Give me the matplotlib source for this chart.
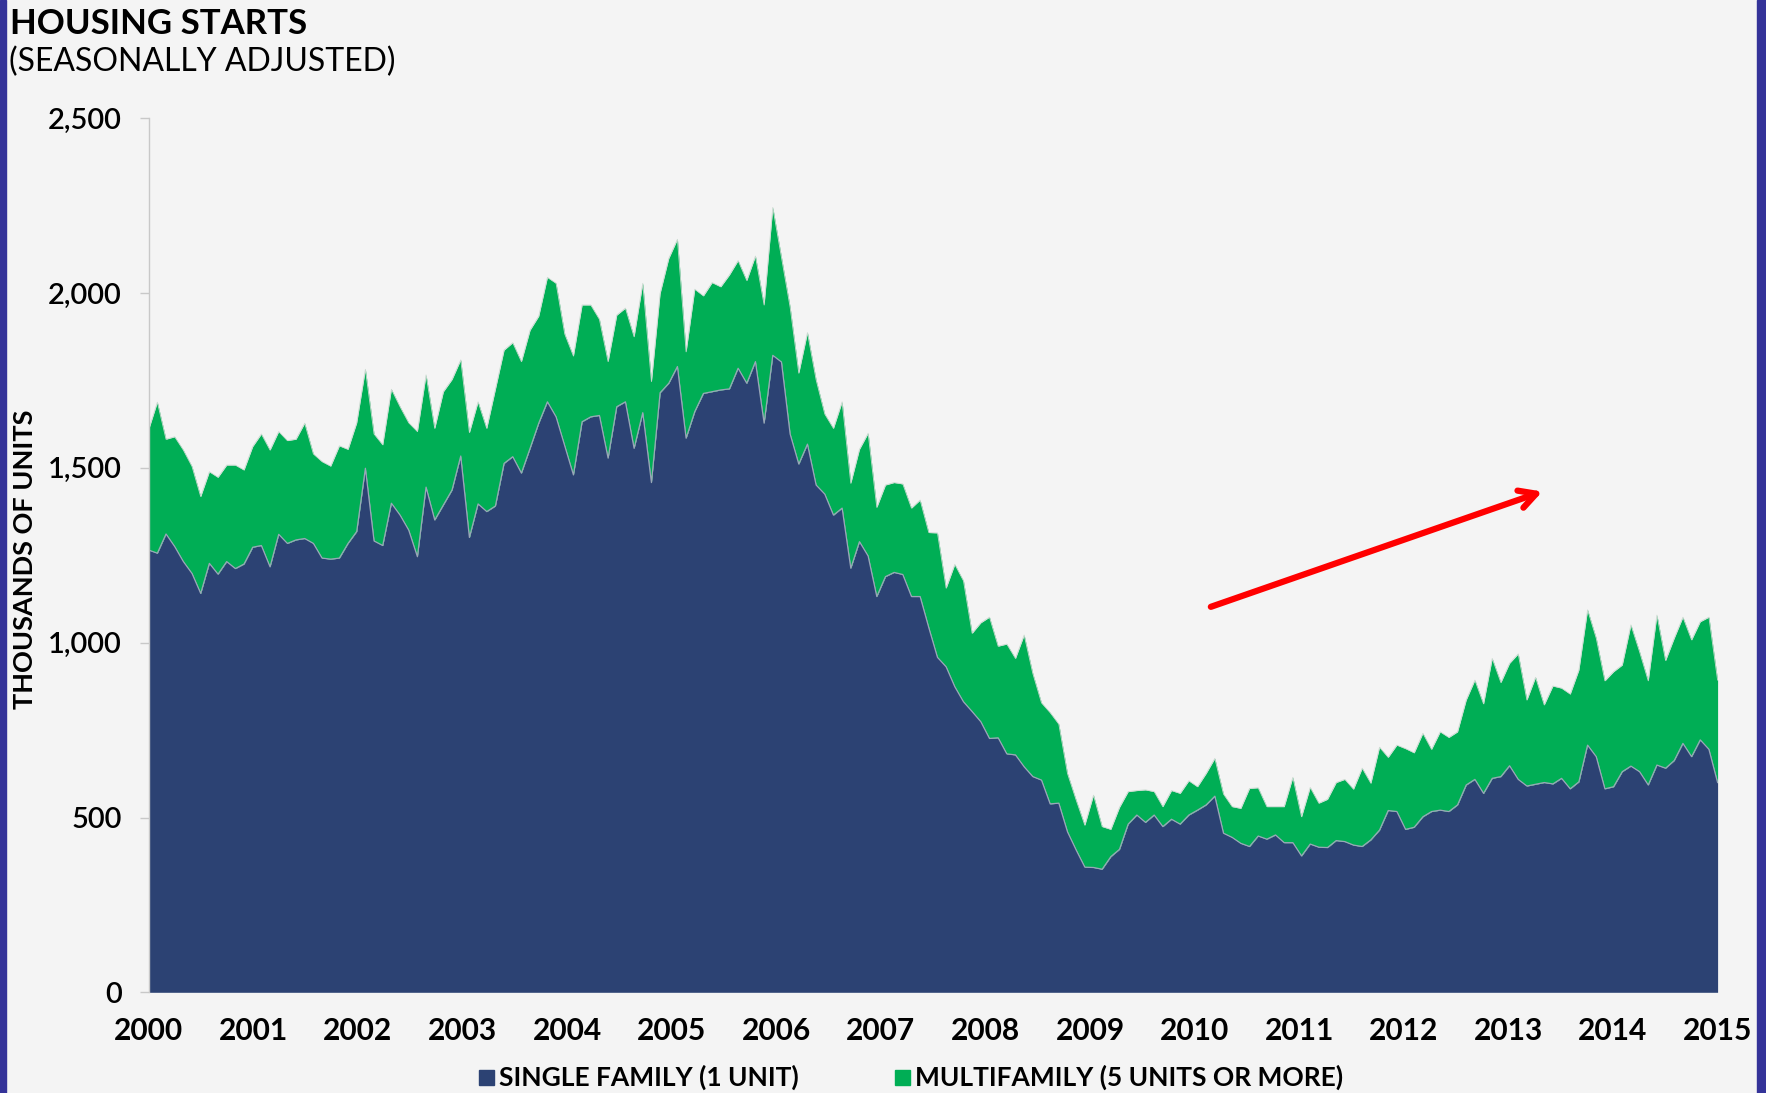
import numpy as np
import matplotlib
matplotlib.use("Agg")
import matplotlib.pyplot as plt
from matplotlib.patches import Rectangle
from matplotlib.ticker import FuncFormatter

# Monthly housing starts, thousands of units (Jan 2000 - Feb 2015)
single_family = [
    1265, 1256, 1311, 1275, 1232, 1198, 1141, 1227, 1196, 1232, 1212, 1225,
    1273, 1278, 1217, 1310, 1284, 1294, 1298, 1284, 1242, 1239, 1242, 1284,
    1318, 1499, 1291, 1278, 1399, 1365, 1322, 1246, 1445, 1351, 1394, 1437,
    1534, 1301, 1397, 1375, 1391, 1513, 1532, 1485, 1556, 1628, 1689, 1646,
    1563, 1480, 1632, 1646, 1650, 1528, 1675, 1689, 1556, 1658, 1458, 1715,
    1742, 1790, 1585, 1661, 1713, 1718, 1723, 1726, 1785, 1742, 1804, 1628,
    1822, 1803, 1597, 1511, 1568, 1451, 1425, 1365, 1385, 1213, 1289, 1248,
    1132, 1189, 1201, 1195, 1132, 1132, 1043, 958, 931, 874, 831, 803,
    774, 726, 728, 682, 679, 645, 617, 607, 539, 541, 459, 407,
    358, 357, 352, 388, 409, 481, 507, 486, 507, 474, 495, 481,
    507, 521, 536, 561, 455, 443, 426, 417, 447, 438, 450, 428,
    428, 390, 424, 415, 414, 434, 431, 421, 417, 436, 464, 520,
    517, 466, 472, 502, 517, 521, 517, 536, 593, 609, 569, 612,
    617, 648, 609, 590, 595, 600, 596, 612, 582, 602, 707, 674,
    582, 588, 631, 647, 631, 593, 650, 641, 663, 712, 674, 722,
    695, 600,
]
multifamily = [
    345, 432, 271, 314, 319, 306, 277, 262, 277, 276, 296, 269,
    288, 319, 334, 294, 294, 288, 330, 256, 276, 266, 321, 269,
    311, 283, 306, 288, 326, 310, 307, 358, 321, 262, 324, 316,
    275, 300, 292, 238, 334, 324, 326, 319, 338, 306, 356, 382,
    320, 340, 334, 320, 275, 276, 262, 268, 319, 370, 289, 284,
    357, 364, 247, 350, 279, 312, 295, 326, 308, 294, 302, 338,
    423, 300, 363, 260, 319, 301, 229, 248, 304, 243, 264, 351,
    255, 262, 257, 259, 253, 276, 272, 356, 225, 350, 346, 224,
    283, 347, 262, 314, 276, 377, 295, 221, 261, 226, 167, 143,
    120, 207, 122, 78, 120, 93, 70, 93, 67, 57, 82, 88,
    98, 67, 90, 108, 112, 88, 100, 166, 138, 93, 81, 103,
    187, 112, 162, 126, 138, 166, 178, 160, 224, 162, 237, 152,
    190, 231, 213, 239, 178, 224, 212, 209, 243, 284, 256, 343,
    269, 293, 359, 246, 306, 222, 280, 258, 271, 320, 387, 339,
    309, 329, 305, 404, 343, 298, 429, 308, 350, 361, 334, 338,
    378, 293,
]
year_ticks = list(range(2000, 2016))
y_ticks = [0, 500, 1000, 1500, 2000, 2500]
series_labels = ["SINGLE FAMILY (1 UNIT)", "MULTIFAMILY (5 UNITS OR MORE)"]

BLUE = "#2C4273"
GREEN = "#00AE55"
BG = "#F4F4F4"
PURPLE = "#343399"
FONT = ["Lato", "DejaVu Sans"]
plt.rcParams["font.family"] = FONT

W, H = 1766, 1093
fig = plt.figure(figsize=(W / 100, H / 100), dpi=100, facecolor=BG)
ax = fig.add_axes([148.7 / W, 1 - 992.3 / H, (1717.6 - 148.7) / W, (992.3 - 118.3) / H])
ax.set_facecolor(BG)

n = len(single_family)
x = np.linspace(2000, 2015, n)
s = np.array(single_family)
m = np.array(multifamily)

ax.fill_between(x, 0, s, color=BLUE, linewidth=0, zorder=2)
ax.fill_between(x, s, s + m, color=GREEN, linewidth=0, zorder=2)
ax.plot(x, s, color="#9AA7B8", linewidth=0.9, zorder=3)
ax.plot(x, s + m, color="#C9D9CF", linewidth=0.6, zorder=3)

ax.set_xlim(2000, 2015)
ax.set_ylim(0, 2500)
ax.set_xticks(year_ticks)
ax.set_xticklabels([str(y) for y in year_ticks], fontsize=21.5, fontweight="bold")
ax.set_yticks(y_ticks)
ax.yaxis.set_major_formatter(FuncFormatter(lambda v, p: f"{int(v):,}"))
for lab in ax.get_yticklabels():
    lab.set_fontsize(21)
    lab.set_fontweight("semibold")

ax.tick_params(axis="x", length=0, pad=18)
ax.tick_params(axis="y", length=6.5, width=1, color="#C8C8C8", pad=13)
for side in ["top", "right", "bottom"]:
    ax.spines[side].set_visible(False)
ax.spines["left"].set_color("#C8C8C8")
ax.spines["left"].set_linewidth(1)
ax.spines["left"].set_zorder(4)

ax.set_ylabel("THOUSANDS OF UNITS", fontsize=19.5, fontweight="bold", labelpad=0)
ax.yaxis.set_label_coords(-0.0715, 0.495)

# red arrow annotation
ax.annotate("", xy=(2013.35, 1435), xytext=(2010.13, 1100),
            arrowprops=dict(arrowstyle="->,head_length=1.2,head_width=0.65",
                            color="#FF0000", lw=4.5), zorder=5)

# titles
fig.text(10 / W, 1 - 8 / H, "HOUSING STARTS", fontsize=25, fontweight="bold",
         va="top", ha="left")
fig.text(9 / W, 1 - 47 / H, "(SEASONALLY ADJUSTED)", fontsize=23,
         va="top", ha="left")

# legend
ly = 1 - 1077 / H
sq = 15
fig.patches.append(Rectangle((479 / W, ly - sq / 2 / H), sq / W, sq / H,
                             transform=fig.transFigure, color=BLUE))
fig.text(499 / W, ly, series_labels[0], fontsize=19, fontweight="bold",
         va="center", ha="left")
fig.patches.append(Rectangle((895 / W, ly - sq / 2 / H), sq / W, sq / H,
                             transform=fig.transFigure, color=GREEN))
fig.text(915 / W, ly, series_labels[1], fontsize=19, fontweight="bold",
         va="center", ha="left")

# purple frame edges
fig.patches.append(Rectangle((0, 0), 6 / W, 1, transform=fig.transFigure,
                             color=PURPLE, zorder=10))
fig.patches.append(Rectangle((1757 / W, 0), 9 / W, 1, transform=fig.transFigure,
                             color=PURPLE, zorder=10))

fig.savefig("out.png", dpi=100, facecolor=BG)
